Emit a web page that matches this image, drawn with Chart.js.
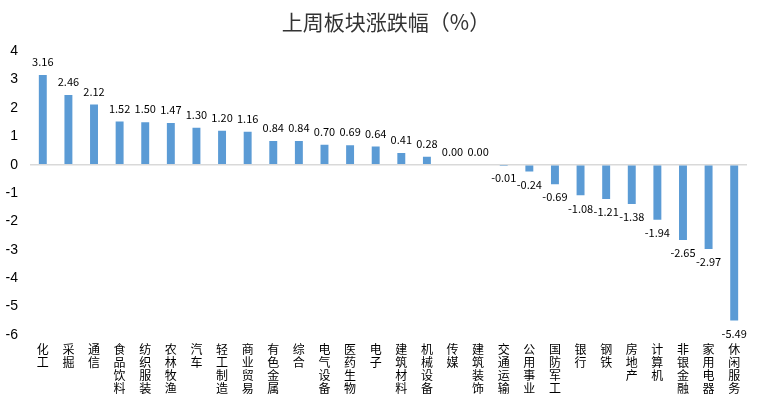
<!DOCTYPE html>
<html>
<head>
<meta charset="utf-8">
<script src="https://cdn.jsdelivr.net/npm/chart.js@4/dist/chart.umd.min.js"></script>
<style>
  html, body { margin: 0; padding: 0; background: #fff; }
  #wrap { width: 772px; height: 397px; }
</style>
</head>
<body>
<div id="wrap"><canvas id="chart"></canvas></div>
<script>
// 板块名称
const categories = ['化工', '采掘', '通信', '食品饮料', '纺织服装', '农林牧渔', '汽车', '轻工制造', '商业贸易',
    '有色金属', '综合', '电气设备', '医药生物', '电子', '建筑材料', '机械设备', '传媒', '建筑装饰',
    '交通运输', '公用事业', '国防军工', '银行', '钢铁', '房地产', '计算机', '非银金融', '家用电器', '休闲服务'];
// 上周涨跌幅 (%)
const changes = [3.16, 2.46, 2.12, 1.52, 1.50, 1.47, 1.30, 1.20, 1.16, 0.84, 0.84, 0.70, 0.69, 0.64, 0.41, 0.28,
    0.00, 0.00, -0.01, -0.24, -0.69, -1.08, -1.21, -1.38, -1.94, -2.65, -2.97, -5.49];
const yTicks = [4, 3, 2, 1, 0, -1, -2, -3, -4, -5, -6];

const cjk = '"Noto Sans CJK SC", sans-serif';

// 在柱子末端写数值
const valueLabels = {
    id: 'valueLabels',
    afterDatasetsDraw(chart) {
        const ctx = chart.ctx;
        const meta = chart.getDatasetMeta(0);
        ctx.save();
        ctx.font = '11px ' + cjk;
        ctx.fillStyle = '#000';
        ctx.textAlign = 'center';
        ctx.textBaseline = 'middle';
        meta.data.forEach((bar, i) => {
            const v = changes[i];
            const y = v >= 0 ? bar.y - 13 : bar.y + 13;
            ctx.fillText(v.toFixed(2), bar.x, y);
        });
        ctx.restore();
    }
};

const ctx = document.getElementById('chart').getContext('2d');
new Chart(ctx, {
    type: 'bar',
    data: {
        labels: categories.map(c => c.split('')),
        datasets: [{
            data: changes,
            backgroundColor: '#5b9bd5',
            barPercentage: 0.62,
            categoryPercentage: 0.5,
        }]
    },
    options: {
        responsive: true,
        maintainAspectRatio: false,
        animation: false,
        layout: { padding: 0 },
        plugins: {
            legend: { display: false },
            tooltip: { enabled: false },
            title: {
                display: true,
                text: '上周板块涨跌幅（%）',
                color: '#333',
                font: { family: cjk, size: 21, weight: 'normal' },
                padding: { top: 9, bottom: 17 }
            }
        },
        scales: {
            x: {
                grid: { display: false },
                border: { display: false },
                ticks: {
                    autoSkip: false,
                    maxRotation: 0,
                    minRotation: 0,
                    padding: 0,
                    color: '#000',
                    font: { family: cjk, size: 12, lineHeight: '13px' }
                },
                afterFit(scale) { scale.height = 62; }
            },
            y: {
                min: -6,
                max: 4,
                afterBuildTicks(scale) { scale.ticks = yTicks.map(v => ({ value: v })); },
                border: { display: false },
                grid: {
                    drawTicks: false,
                    color: c => c.tick && c.tick.value === 0 ? '#d9d9d9' : 'rgba(0,0,0,0)',
                    lineWidth: 1.5
                },
                ticks: {
                    padding: 12,
                    color: '#000',
                    font: { family: '"Liberation Sans", Arial, sans-serif', size: 14 }
                },
                afterFit(scale) { scale.width = 30; }
            },
            // 右侧留白
            yRight: {
                position: 'right',
                min: -6,
                max: 4,
                grid: { display: false },
                border: { display: false },
                ticks: { display: false },
                afterFit(scale) { scale.width = 25; }
            }
        }
    },
    plugins: [valueLabels]
});
</script>
</body>
</html>
